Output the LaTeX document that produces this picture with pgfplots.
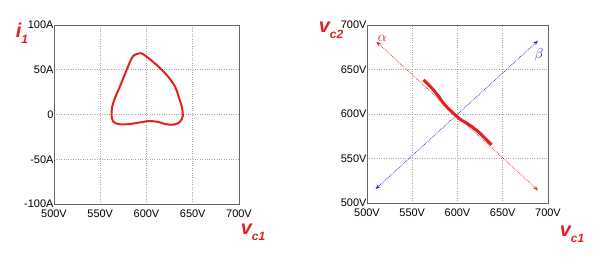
\documentclass[border=0pt]{standalone}
\usepackage{pgfplots}
\pgfplotsset{compat=1.18}
\usepackage{fontspec}
\setmainfont{Liberation Sans}
\setsansfont{Liberation Sans}
\usetikzlibrary{arrows.meta}
\definecolor{myred}{RGB}{230,30,30}
\definecolor{myblue}{RGB}{40,40,200}
\newcommand{\lab}[2]{#1\raisebox{-0.3em}{\fontsize{12}{12}\selectfont #2}}
\tikzset{lbl/.style={anchor=center, text=myred, font=\fontsize{20}{20}\selectfont\bfseries\itshape}}
\begin{document}
\begin{tikzpicture}
\path[use as bounding box] (0bp,0bp) rectangle (601bp,269bp);
\pgfplotsset{
  myaxis/.style={
    scale only axis,
    axis line style={gray!80!black, line width=0.6pt},
    grid=major,
    major grid style={gray!70, dotted, line width=0.6pt},
    major tick length=0pt,
    tick label style={font=\fontsize{11}{11}\selectfont, text=black},
    /pgf/number format/assume math mode=true,
    yticklabel style={xshift=3bp},
    xticklabel style={yshift=-2bp},
    clip=false,
  },
}
\begin{axis}[myaxis,
  at={(54bp,65bp)}, anchor=south west, width=185bp, height=179bp,
  xmin=500, xmax=700, ymin=-100, ymax=100,
  xtick={500,550,600,650,700},
  xticklabels={500V,550V,600V,650V,700V},
  ytick={-100,-50,0,50,100},
  yticklabels={-100A,-50A,0,50A,100A},
]
\addplot[myred, line width=2pt, smooth] coordinates {
(592.2,68.3) (587,66.5) (584,62.8) (578.5,49.7) (571.2,31.1) (565.8,18.1) (562.9,8.7) (562.2,-0.6)
(564,-8) (571.2,-11) (582.1,-10.6) (593,-8.8) (603.8,-7.3) (612.8,-8.4) (621.9,-11)
(630.9,-11) (636.3,-8) (639.2,-1.7) (638.2,8.7) (635.3,18.1) (630.9,31.1) (621.9,44.1)
(611,55.3) (600.2,64.6) (594.8,68.3) (592.2,68.3)
};
\end{axis}
\node[lbl] at (22bp,236bp) {\lab{i}{1}};
\node[lbl] at (253bp,37bp) {\lab{v}{c1}};
\begin{axis}[myaxis,
  at={(367bp,66bp)}, anchor=south west, width=181bp, height=178bp,
  xmin=500, xmax=700, ymin=500, ymax=700,
  xtick={500,550,600,650,700},
  xticklabels={500V,550V,600V,650V,700V},
  ytick={500,550,600,650,700},
  yticklabels={500V,550V,600V,650V,700V},
]
\addplot[myred, line width=0.7pt, densely dotted, {Stealth[length=5bp]}-{Stealth[length=5bp]}] coordinates {(510.3,681.3) (689,514.2)};
\addplot[myblue, line width=0.7pt, densely dotted, {Stealth[length=5bp]}-{Stealth[length=5bp]}] coordinates {(509.5,515.7) (689,682.4)};
\addplot[myred, line width=3pt] coordinates {
(562.4,638.3) (567,634) (573.4,627.1) (579,620) (584.4,612.1) (590,606) (597.2,599.1)
(603,594) (610.1,589.7) (617,585) (624.8,578.5) (631,572) (637.6,565.4)
};
\node[text=myred, font=\fontsize{14}{14}\selectfont] at (axis cs:517,685) {$\alpha$};
\node[text=myblue, font=\fontsize{14}{14}\selectfont] at (axis cs:690,666) {$\beta$};
\end{axis}
\node[lbl] at (331bp,239bp) {\lab{v}{c2}};
\node[lbl] at (572bp,35bp) {\lab{v}{c1}};
\end{tikzpicture}
\end{document}
